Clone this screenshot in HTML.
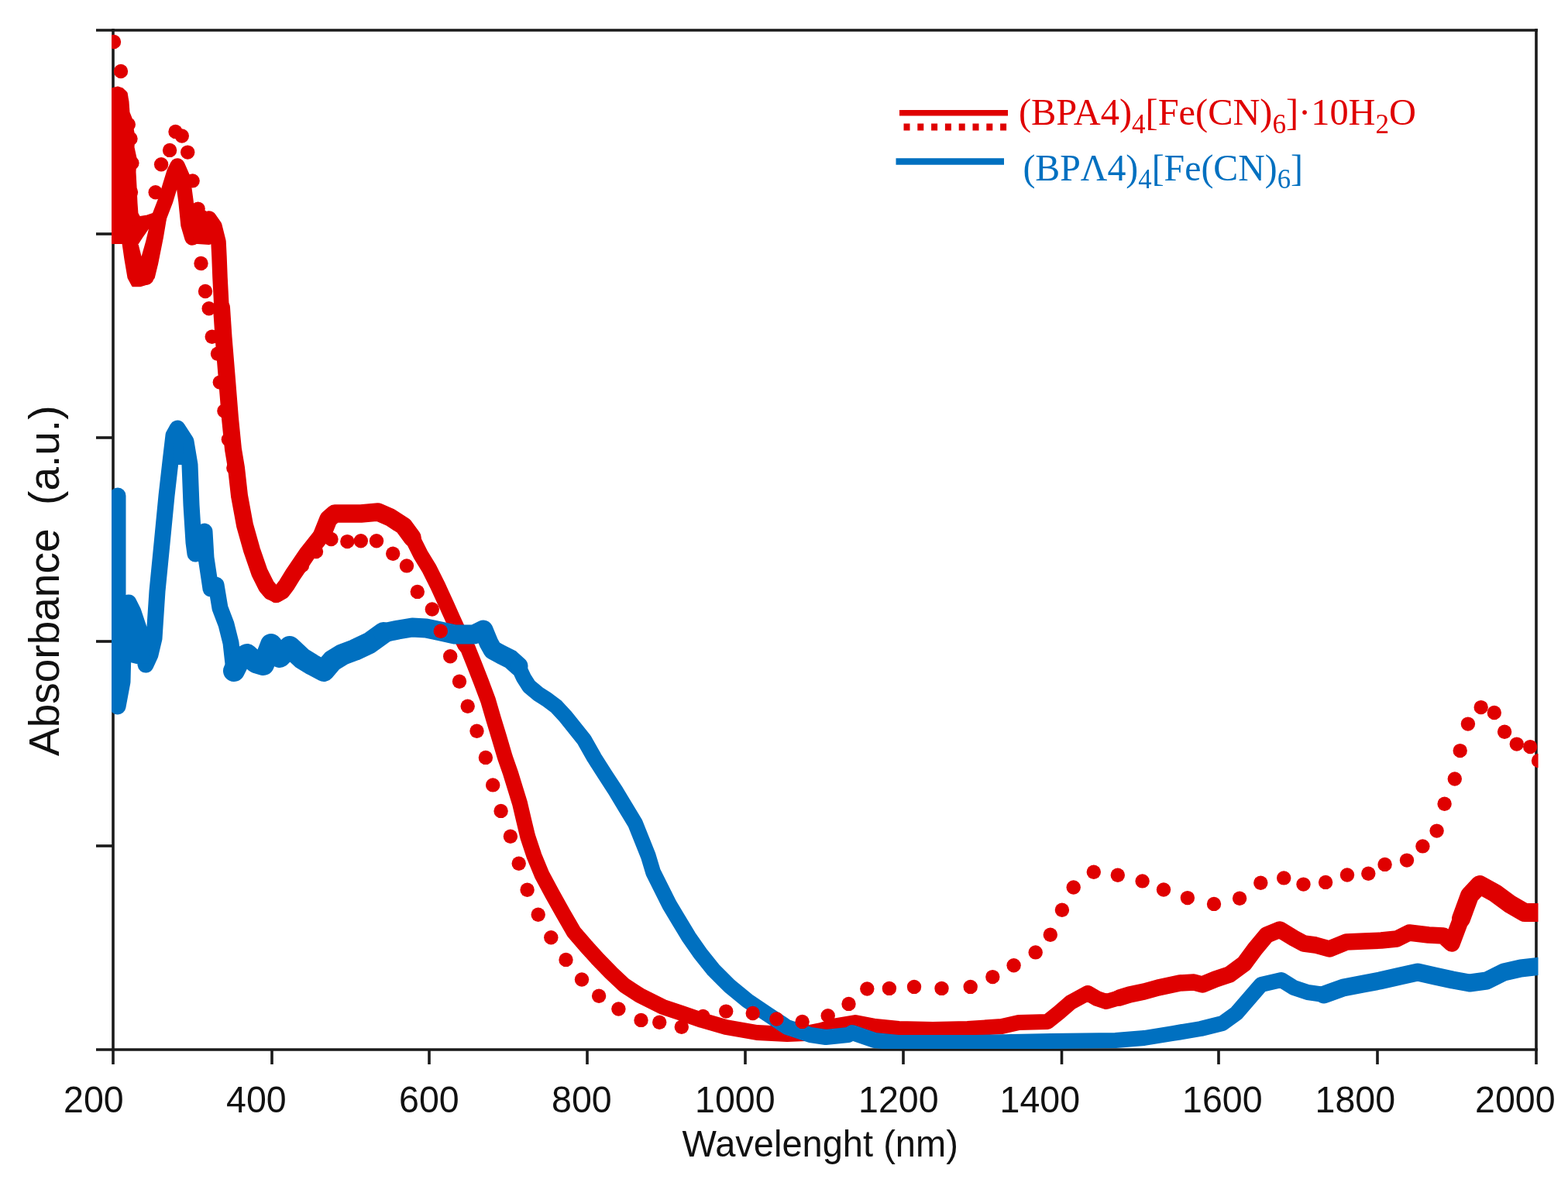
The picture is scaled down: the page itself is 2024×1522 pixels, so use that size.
<!DOCTYPE html>
<html><head><meta charset="utf-8"><title>Absorbance spectra</title>
<style>html,body{margin:0;padding:0;background:#fff;width:2024px;height:1522px;overflow:hidden}svg{display:block}</style>
</head><body>
<svg width="2024" height="1522" viewBox="0 0 2024 1522"><defs><clipPath id="pa"><rect x="144" y="37" width="1841.5" height="1317"/></clipPath></defs><rect width="2024" height="1522" fill="#fff"/><g stroke="#1a1a1a" stroke-width="3.6" fill="none" stroke-linecap="butt"><line x1="124" y1="39" x2="1985" y2="39"/><line x1="124" y1="1355" x2="1985" y2="1355"/><line x1="146" y1="37" x2="146" y2="1374"/><line x1="1983" y1="37" x2="1983" y2="1374"/><line x1="124" y1="302" x2="146" y2="302"/><line x1="124" y1="565" x2="146" y2="565"/><line x1="124" y1="828" x2="146" y2="828"/><line x1="124" y1="1092" x2="146" y2="1092"/><line x1="351" y1="1355" x2="351" y2="1374"/><line x1="554" y1="1355" x2="554" y2="1374"/><line x1="758" y1="1355" x2="758" y2="1374"/><line x1="962" y1="1355" x2="962" y2="1374"/><line x1="1166" y1="1355" x2="1166" y2="1374"/><line x1="1370.5" y1="1355" x2="1370.5" y2="1374"/><line x1="1573" y1="1355" x2="1573" y2="1374"/><line x1="1778" y1="1355" x2="1778" y2="1374"/></g><g clip-path="url(#pa)" fill="none" stroke-linejoin="round" stroke-linecap="round"><polygon points="144,115 152,113 158,115 163,120 165,131 166,145 170,155 171,166 173,176 172,190 175,204 174,222 175,240 176,262 177,276 178,281 190,279 199,276 206,272 213.3,283.6 209.3,307.3 203,338.8 198.3,358.5 190,366 181,368.7 171.5,368.7 166,358.5 162,335 158.9,313.6 144,313.6" fill="#DF0000" stroke="#DF0000" stroke-width="3"/><polyline points="189,358 194,339 200,307 204,284 214,258 220,238 225,222 229,214 236,230 240,260 243,290 248,307 256,302 264,290 270,282 277,292 282,312 283,332 284,358 286,397" stroke="#DF0000" stroke-width="19.5"/><polyline points="286,397 288.5,435 293,490 297,540 301,580 305,604 309,640 316,678 325,710 335,739 344,757 350,764 357,767 364,763 370,755 378,742 397,714 416,690" stroke="#DF0000" stroke-width="22"/><polyline points="416,690 424,670 432,663 447,663 466,663 488,661 504,668 521,679 532,694" stroke="#DF0000" stroke-width="23.5"/><polyline points="532,694 543,716 554,734 565,756 576,780 585,800 595,822 600,832 604,837 612,857 621,880 630,904 637,928 644,951 652,978 659,998 671,1037 676.4,1060 681.2,1080 689.5,1105 699.5,1129.3 712.8,1153.9 726.5,1178.5 740.8,1203.2 757,1222 771.5,1238 789,1256 806,1272 826,1285 856,1300 880,1308 906,1317 937,1326 977,1333 1016,1335 1040,1334 1060,1330 1080,1324 1104,1320 1130,1325 1160,1328 1204,1329 1249,1328 1293,1325 1315,1320 1352,1319 1367,1307 1382,1294 1404,1282 1416,1289 1428,1293 1445,1288" stroke="#DF0000" stroke-width="20"/><polyline points="1445,1288 1458,1284 1477,1280 1495,1275 1523,1269 1541,1268 1552,1271 1569,1264 1587,1258 1606,1244 1620,1225 1635,1207 1652,1200 1670,1211 1683,1218 1698,1220 1716,1225 1738,1216 1761,1215 1783,1214 1803,1212 1819,1204 1844,1207 1863,1208 1874,1218 1886,1186" stroke="#DF0000" stroke-width="21.5"/><polyline points="1886,1186 1897,1156 1910,1142 1930,1153 1949,1167 1968,1178 1990,1178" stroke="#DF0000" stroke-width="24"/><polygon points="178.6,315.2 184,307 192,295.5 188,312 182.6,331" fill="#fff"/><polygon points="238,262 250,268 262,270 272,276 281,290 283,312 270,316 255,315 243,314 240,300" fill="#DF0000"/><polyline points="152,640 152,912 158,880 160,800 166,778 172,790 179,811 185,830 188,858 194,845 199,824 203,763 209,702 215,640 220,596 224,562 229,553 240,570 245,600 247,652 250,700 252,715 258,690 264,686 266,720 272,760 279,755 284,785 292,806 298,830 302,866" stroke="#0070C0" stroke-width="21"/><polyline points="302,866 310,850 319,845 330,855 340,858 350,832 361,848 374,835 390,850 403,858 418,866 429,853 442,845 458,839 477,830 495,817" stroke="#0070C0" stroke-width="28"/><polyline points="495,817 514,813 532,810 550,811 569,815 587,819 600,819 612,819 624,813 631,830 636,839 647,845 659,851 669,860" stroke="#0070C0" stroke-width="25"/><polyline points="669,860 676,875 683,886 695,896 706,903 718,912 730,925 742,940 754,955 767,978 781,1000 794.7,1021 807.3,1042 820,1063 828.4,1084 836.8,1105 843.1,1126 853.6,1147 864.1,1168 876.7,1189 889.4,1210 904.1,1231 920.9,1252 941.9,1273 965.1,1292 990.3,1309 1016,1326 1046,1336 1066,1339 1095,1336 1100,1333 1129,1343 1159,1346 1258,1346 1356,1344 1440,1343 1477,1340 1514,1334 1550,1328 1578,1321 1596,1308 1615,1286 1628,1271 1654,1265 1670,1275 1688,1281 1709,1284" stroke="#0070C0" stroke-width="20"/><polyline points="1709,1284 1734,1275 1760,1270 1781,1266 1803,1261 1830,1255 1852,1260 1875,1265 1897,1269 1919,1266 1941,1255 1963,1250 1990,1247" stroke="#0070C0" stroke-width="23"/><polygon points="224,572 236,572 238,600 225,600" fill="#0070C0"/><polygon points="150,812 184,812 195,830 192,856 176,857 168,855 150,850" fill="#0070C0"/><g fill="#DF0000" stroke="none"><circle cx="147" cy="54" r="9.2"/><circle cx="156" cy="92" r="9.2"/><circle cx="156" cy="124" r="9.2"/><circle cx="165.8" cy="160.7" r="9.2"/><circle cx="168.5" cy="179.1" r="9.2"/><circle cx="170.4" cy="210.4" r="9.2"/><circle cx="169" cy="248" r="9.2"/><circle cx="172" cy="282" r="9.2"/><circle cx="200.7" cy="248.2" r="9.2"/><circle cx="208.1" cy="212.3" r="9.2"/><circle cx="219.1" cy="193.9" r="9.2"/><circle cx="226.5" cy="169.9" r="9.2"/><circle cx="234.8" cy="175.5" r="9.2"/><circle cx="242.2" cy="196.6" r="9.2"/><circle cx="248.6" cy="233.4" r="9.2"/><circle cx="255.6" cy="269.6" r="9.2"/><circle cx="258" cy="305" r="9.2"/><circle cx="259.5" cy="340" r="9.2"/><circle cx="265" cy="376" r="9.2"/><circle cx="269.7" cy="398.3" r="9.2"/><circle cx="273.7" cy="434.7" r="9.2"/><circle cx="281" cy="456.8" r="9.2"/><circle cx="283.8" cy="493.6" r="9.2"/><circle cx="289.4" cy="530.4" r="9.2"/><circle cx="294.9" cy="567.2" r="9.2"/><circle cx="301.3" cy="604" r="9.2"/><circle cx="307.8" cy="640.9" r="9.2"/><circle cx="316" cy="678" r="9.2"/><circle cx="325" cy="710" r="9.2"/><circle cx="336" cy="740" r="9.2"/><circle cx="347" cy="760" r="9.2"/><circle cx="356" cy="769" r="9.2"/><circle cx="372" cy="752" r="9.2"/><circle cx="390" cy="730" r="9.2"/><circle cx="408" cy="712" r="9.2"/><circle cx="427.5" cy="696" r="9.2"/><circle cx="448.3" cy="699.1" r="9.2"/><circle cx="465.8" cy="698.2" r="9.2"/><circle cx="486" cy="698.2" r="9.2"/><circle cx="507.2" cy="714.8" r="9.2"/><circle cx="525" cy="730.4" r="9.2"/><circle cx="538.8" cy="763.9" r="9.2"/><circle cx="557.8" cy="786.5" r="9.2"/><circle cx="568.8" cy="814.7" r="9.2"/><circle cx="581.2" cy="847.3" r="9.2"/><circle cx="593" cy="879.8" r="9.2"/><circle cx="603.7" cy="911.7" r="9.2"/><circle cx="615.5" cy="943.8" r="9.2"/><circle cx="626.9" cy="977.9" r="9.2"/><circle cx="636.2" cy="1013.4" r="9.2"/><circle cx="646.6" cy="1046.9" r="9.2"/><circle cx="658.9" cy="1079.8" r="9.2"/><circle cx="669.7" cy="1114.7" r="9.2"/><circle cx="680.6" cy="1148.8" r="9.2"/><circle cx="694.7" cy="1180.7" r="9.2"/><circle cx="711.3" cy="1210.2" r="9.2"/><circle cx="730.5" cy="1238.9" r="9.2"/><circle cx="751" cy="1264.5" r="9.2"/><circle cx="773.1" cy="1285.8" r="9.2"/><circle cx="798.4" cy="1302.5" r="9.2"/><circle cx="827.5" cy="1316.9" r="9.2"/><circle cx="851.2" cy="1319.8" r="9.2"/><circle cx="879.8" cy="1325.8" r="9.2"/><circle cx="907.5" cy="1312" r="9.2"/><circle cx="937.2" cy="1305.6" r="9.2"/><circle cx="971.7" cy="1308" r="9.2"/><circle cx="1002.4" cy="1315.5" r="9.2"/><circle cx="1035.6" cy="1318.9" r="9.2"/><circle cx="1068.7" cy="1311.2" r="9.2"/><circle cx="1095.5" cy="1295.9" r="9.2"/><circle cx="1119.3" cy="1276.5" r="9.2"/><circle cx="1147.9" cy="1275.9" r="9.2"/><circle cx="1180" cy="1273.9" r="9.2"/><circle cx="1215.5" cy="1275.9" r="9.2"/><circle cx="1252.7" cy="1273.9" r="9.2"/><circle cx="1281.3" cy="1261.1" r="9.2"/><circle cx="1308.6" cy="1246.2" r="9.2"/><circle cx="1336.7" cy="1229.4" r="9.2"/><circle cx="1355.8" cy="1206.7" r="9.2"/><circle cx="1370.9" cy="1174.7" r="9.2"/><circle cx="1385.7" cy="1145.5" r="9.2"/><circle cx="1411.8" cy="1125.7" r="9.2"/><circle cx="1442.8" cy="1129.7" r="9.2"/><circle cx="1474.6" cy="1137.4" r="9.2"/><circle cx="1502" cy="1148.5" r="9.2"/><circle cx="1532.9" cy="1159.1" r="9.2"/><circle cx="1567" cy="1166.9" r="9.2"/><circle cx="1600.1" cy="1159.7" r="9.2"/><circle cx="1627.3" cy="1139.8" r="9.2"/><circle cx="1657.2" cy="1133.4" r="9.2"/><circle cx="1682.5" cy="1141.6" r="9.2"/><circle cx="1711.1" cy="1138.9" r="9.2"/><circle cx="1739" cy="1129.5" r="9.2"/><circle cx="1766.3" cy="1127.7" r="9.2"/><circle cx="1787.6" cy="1115.9" r="9.2"/><circle cx="1816" cy="1110.6" r="9.2"/><circle cx="1836.4" cy="1092.4" r="9.2"/><circle cx="1854.6" cy="1072.6" r="9.2"/><circle cx="1864.6" cy="1037.8" r="9.2"/><circle cx="1877.8" cy="1005.5" r="9.2"/><circle cx="1884.7" cy="969.1" r="9.2"/><circle cx="1894.9" cy="934.6" r="9.2"/><circle cx="1911.7" cy="913.1" r="9.2"/><circle cx="1928.8" cy="920" r="9.2"/><circle cx="1942.1" cy="944.8" r="9.2"/><circle cx="1957.8" cy="960.6" r="9.2"/><circle cx="1975.2" cy="964.1" r="9.2"/><circle cx="1986" cy="982" r="9.2"/></g></g><g font-family="Liberation Sans, Arial, sans-serif" font-size="48" fill="#111"><text transform="translate(82,1436) scale(0.97,1)">200</text><text transform="translate(292,1436) scale(0.97,1)">400</text><text transform="translate(515,1436) scale(0.97,1)">600</text><text transform="translate(712,1436) scale(0.97,1)">800</text><text transform="translate(897,1436) scale(0.97,1)">1000</text><text transform="translate(1108,1436) scale(0.97,1)">1200</text><text transform="translate(1290.5,1436) scale(0.97,1)">1400</text><text transform="translate(1526,1436) scale(0.97,1)">1600</text><text transform="translate(1697.5,1436) scale(0.97,1)">1800</text><text transform="translate(1904,1436) scale(0.97,1)">2000</text></g><text transform="translate(880.5,1493) scale(0.966,1)" font-family="Liberation Sans, Arial, sans-serif" font-size="48.7" fill="#111">Wavelenght (nm)</text><text transform="translate(76,976) rotate(-90)" font-family="Liberation Sans, Arial, sans-serif" font-size="55" fill="#111" xml:space="preserve" style="white-space:pre">Absorbance  (a.u.)</text><line x1="1161" y1="145.8" x2="1301" y2="145.8" stroke="#DF0000" stroke-width="7.5"/><line x1="1166.5" y1="164" x2="1300" y2="164" stroke="#DF0000" stroke-width="9" stroke-dasharray="8 9.8"/><line x1="1156.5" y1="208.5" x2="1296" y2="208.5" stroke="#0070C0" stroke-width="8.5"/><text transform="translate(1315,161) scale(0.977,1)" font-family="Liberation Serif, Times New Roman, serif" font-size="49.5" fill="#DF0000">(BPA4)<tspan font-size="36" dy="10.5">4</tspan><tspan dy="-10.5">[Fe(CN)</tspan><tspan font-size="36" dy="10.5">6</tspan><tspan dy="-10.5">]·10H</tspan><tspan font-size="36" dy="10.5">2</tspan><tspan dy="-10.5">O</tspan></text><text transform="translate(1320.4,232.5) scale(0.966,1)" font-family="Liberation Serif, Times New Roman, serif" font-size="49.5" fill="#0070C0">(BPΛ4)<tspan font-size="36" dy="10.5">4</tspan><tspan dy="-10.5">[Fe(CN)</tspan><tspan font-size="36" dy="10.5">6</tspan><tspan dy="-10.5">]</tspan></text></svg>
</body></html>
